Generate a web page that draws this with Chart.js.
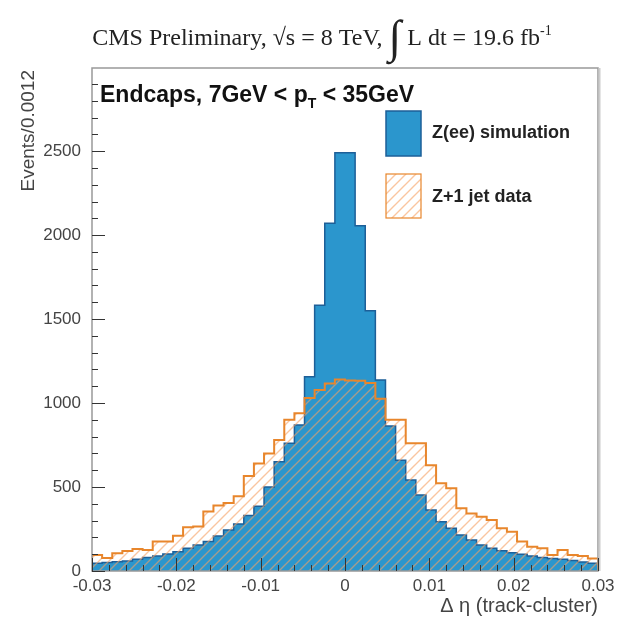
<!DOCTYPE html>
<html lang="en">
<head>
<meta charset="UTF-8">
<title>Delta eta (track-cluster), endcaps</title>
<style>
  body { margin: 0; padding: 0; background-color: #fff; }
  #chart { display: block; }
</style>
</head>
<body>
<canvas id="chart" width="622" height="619"></canvas>
<script src="https://cdn.jsdelivr.net/npm/chart.js"></script>
<script>
  // binning of the histograms
  const xMin = -0.03;
  const xMax = 0.03;
  const binWidth = 0.0012;
  const yMax = 2995;

  // Z(ee) simulation, events per bin, left to right (50 bins)
  const simValues = [46, 50, 55, 60, 70, 80, 89, 101, 115, 135,
    155, 175, 208, 244, 280, 330, 385, 500, 650, 760,
    869, 1157, 1583, 2070, 2490, 2490, 2055, 1549, 1137, 863,
    660, 542, 452, 363, 293, 254, 214, 185, 155, 135,
    121, 109, 99, 89, 81, 75, 70, 62, 54, 46];

  // Z+1 jet data, events per bin
  const dataValues = [95, 78, 105, 119, 131, 125, 175, 175, 210, 260,
    265, 355, 390, 405, 445, 565, 640, 700, 780, 900,
    940, 1030, 1077, 1117, 1140, 1135, 1133, 1120, 1025, 900,
    900, 760, 760, 630, 522, 492, 373, 343, 323, 303,
    254, 234, 175, 145, 135, 95, 125, 95, 90, 75];

  const yTicks = [0, 500, 1000, 1500, 2000, 2500];
  const xTicks = [-0.03, -0.02, -0.01, 0, 0.01, 0.02, 0.03];

  const blue = '#2b96cd';
  const blueLine = '#1d5f98';
  const orange = '#e8862c';

  // points for a stepped outline, starting and ending at zero
  function stepPoints(values) {
    const pts = [{ x: xMin, y: 0 }];
    values.forEach((v, i) => pts.push({ x: xMin + i * binWidth, y: v }));
    pts.push({ x: xMax, y: values[values.length - 1] });
    pts.push({ x: xMax, y: 0 });
    return pts;
  }

  function makeHatch(color) {
    const c = document.createElement('canvas');
    c.width = 10;
    c.height = 10;
    const g = c.getContext('2d');
    g.strokeStyle = color;
    g.lineWidth = 1.4;
    g.beginPath();
    g.moveTo(0, 10); g.lineTo(10, 0);
    g.moveTo(-1, 1); g.lineTo(1, -1);
    g.moveTo(9, 11); g.lineTo(11, 9);
    g.stroke();
    return g.createPattern(c, 'repeat');
  }

  const hatch = makeHatch('rgba(246, 160, 96, 0.6)');

  const frame = {
    id: 'frame',
    afterDraw(chart) {
      const ctx = chart.ctx;
      const a = chart.chartArea;
      const xs = chart.scales.x;
      const ys = chart.scales.y;
      ctx.save();

      // frame
      ctx.strokeStyle = '#999';
      ctx.lineWidth = 1.5;
      ctx.strokeRect(a.left, a.top, a.right - a.left, a.bottom - a.top);
      ctx.strokeStyle = '#ccc';
      ctx.lineWidth = 2;
      ctx.beginPath();
      ctx.moveTo(a.right + 1.5, a.top);
      ctx.lineTo(a.right + 1.5, a.bottom);
      ctx.stroke();

      // ticks pointing inwards
      ctx.strokeStyle = '#333';
      ctx.lineWidth = 1;
      ctx.beginPath();
      for (let v = 0; v <= yMax; v += 100) {
        const y = Math.round(ys.getPixelForValue(v)) + 0.5;
        const len = v % 500 === 0 ? 13 : 6;
        ctx.moveTo(a.left, y);
        ctx.lineTo(a.left + len, y);
      }
      for (let i = 0; i <= 30; i++) {
        const v = xMin + i * 0.002;
        const x = Math.round(xs.getPixelForValue(v)) + 0.5;
        const len = i % 5 === 0 ? 13 : 6;
        ctx.moveTo(x, a.bottom);
        ctx.lineTo(x, a.bottom - len);
      }
      ctx.stroke();

      // title
      ctx.fillStyle = '#222';
      ctx.textBaseline = 'alphabetic';
      const parts = [
        ['CMS Preliminary, \u221As = 8 TeV, ', '24px "Liberation Serif"', 0],
        ['\u222B', '46px "Liberation Serif"', 7],
        [' L dt = 19.6 fb', '24px "Liberation Serif"', 0],
        ['-1', '14px "Liberation Serif"', -10]
      ];
      let total = 0;
      parts.forEach(p => { ctx.font = p[1]; total += ctx.measureText(p[0]).width; });
      let x = 322 - total / 2;
      parts.forEach(p => {
        ctx.font = p[1];
        ctx.textAlign = 'left';
        ctx.fillText(p[0], x, 45 + p[2]);
        x += ctx.measureText(p[0]).width;
      });

      // axis titles
      ctx.fillStyle = '#444';
      ctx.font = '20px "Liberation Sans"';
      ctx.textAlign = 'right';
      ctx.fillText('\u0394 \u03B7 (track-cluster)', a.right, 612);
      ctx.font = '19px "Liberation Sans"';
      ctx.save();
      ctx.translate(34, a.top + 2);
      ctx.rotate(-Math.PI / 2);
      ctx.textAlign = 'right';
      ctx.fillText('Events/0.0012', 0, 0);
      ctx.restore();

      // region label
      ctx.fillStyle = '#111';
      ctx.textAlign = 'left';
      let tx = 100;
      const lab = [
        ['Endcaps, 7GeV < p', 'bold 23px "Liberation Sans"', 0],
        ['T', 'bold 14px "Liberation Sans"', 6],
        [' < 35GeV', 'bold 23px "Liberation Sans"', 0]
      ];
      lab.forEach(p => {
        ctx.font = p[1];
        ctx.fillText(p[0], tx, 102 + p[2]);
        tx += ctx.measureText(p[0]).width;
      });

      // legend
      ctx.fillStyle = blue;
      ctx.fillRect(386, 111, 35, 45);
      ctx.strokeStyle = blueLine;
      ctx.lineWidth = 1.5;
      ctx.strokeRect(386, 111, 35, 45);
      ctx.fillStyle = hatch;
      ctx.fillRect(386, 174, 35, 44);
      ctx.strokeStyle = orange;
      ctx.lineWidth = 1.2;
      ctx.strokeRect(386, 174, 35, 44);
      ctx.fillStyle = '#222';
      ctx.font = 'bold 18px "Liberation Sans"';
      ctx.textBaseline = 'middle';
      ctx.fillText('Z(ee) simulation', 432, 133);
      ctx.fillText('Z+1 jet data', 432, 197);

      ctx.restore();
    }
  };

  new Chart(document.getElementById('chart'), {
    type: 'line',
    data: {
      datasets: [{
        label: 'Z+1 jet data',
        data: stepPoints(dataValues),
        stepped: 'before',
        borderColor: orange,
        borderWidth: 2,
        backgroundColor: hatch,
        fill: 'origin',
        pointRadius: 0
      }, {
        label: 'Z(ee) simulation',
        data: stepPoints(simValues),
        stepped: 'before',
        borderColor: blueLine,
        borderWidth: 1.5,
        backgroundColor: blue,
        fill: 'origin',
        pointRadius: 0
      }]
    },
    options: {
      responsive: false,
      animation: false,
      layout: { padding: { left: 0, top: 68, right: 24, bottom: 0 } },
      plugins: {
        legend: { display: false },
        tooltip: { enabled: false },
        title: { display: false }
      },
      scales: {
        x: {
          type: 'linear',
          min: xMin,
          max: xMax,
          afterBuildTicks: s => { s.ticks = xTicks.map(v => ({ value: v })); },
          afterFit: s => { s.height = 48; },
          grid: { display: false, drawTicks: false },
          border: { display: false },
          ticks: {
            autoSkip: false,
            maxRotation: 0,
            padding: 5,
            color: '#444',
            font: { family: 'Liberation Sans', size: 17 },
            callback: v => String(Number(v.toFixed(2)))
          }
        },
        y: {
          min: 0,
          max: yMax,
          afterBuildTicks: s => { s.ticks = yTicks.map(v => ({ value: v })); },
          afterFit: s => { s.width = 92; },
          grid: { display: false, drawTicks: false },
          border: { display: false },
          ticks: {
            padding: 11,
            color: '#444',
            font: { family: 'Liberation Sans', size: 17 },
            callback: v => String(v)
          }
        }
      }
    },
    plugins: [frame]
  });
</script>
</body>
</html>
